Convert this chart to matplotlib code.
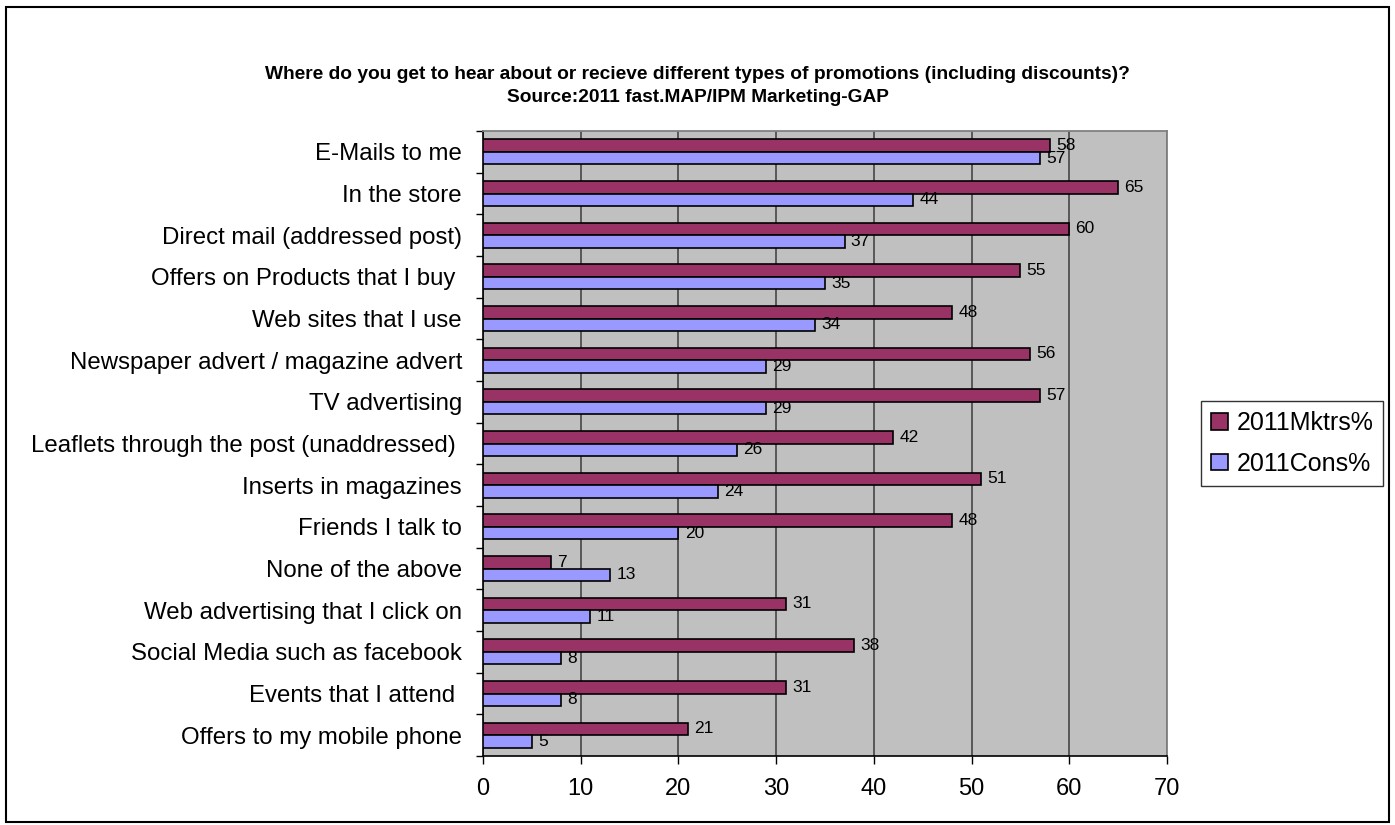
import numpy as np
import matplotlib

matplotlib.use("Agg")
import matplotlib.pyplot as plt
from matplotlib.patches import Rectangle

plt.rcParams["font.family"] = ["Liberation Sans", "DejaVu Sans"]

categories = [
    "E-Mails to me",
    "In the store",
    "Direct mail (addressed post)",
    "Offers on Products that I buy ",
    "Web sites that I use",
    "Newspaper advert / magazine advert",
    "TV advertising",
    "Leaflets through the post (unaddressed) ",
    "Inserts in magazines",
    "Friends I talk to",
    "None of the above",
    "Web advertising that I click on",
    "Social Media such as facebook",
    "Events that I attend ",
    "Offers to my mobile phone",
]
mktrs = [58, 65, 60, 55, 48, 56, 57, 42, 51, 48, 7, 31, 38, 31, 21]
cons = [57, 44, 37, 35, 34, 29, 29, 26, 24, 20, 13, 11, 8, 8, 5]
series_names = ["2011Mktrs%", "2011Cons%"]
x_ticks = [0, 10, 20, 30, 40, 50, 60, 70]

title = ("Where do you get to hear about or recieve different types of "
         "promotions (including discounts)?\nSource:2011 fast.MAP/IPM Marketing-GAP")

fig = plt.figure(figsize=(13.95, 8.25), dpi=100)
fig.patch.set_facecolor("white")
ax = fig.add_axes([0.3462, 0.0836, 0.4904, 0.7576])
ax.set_facecolor("#C0C0C0")

y = np.arange(len(categories))
h = 0.3
b1 = ax.barh(y - h / 2, mktrs, height=h, color="#993366", edgecolor="black",
             linewidth=1.2, label=series_names[0], zorder=3)
b2 = ax.barh(y + h / 2, cons, height=h, color="#9999FF", edgecolor="black",
             linewidth=1.2, label=series_names[1], zorder=3)
for bars, vals in ((b1, mktrs), (b2, cons)):
    for bar, v in zip(bars, vals):
        ax.annotate(str(v), (v, bar.get_y() + bar.get_height() / 2),
                    xytext=(4.5, 0), textcoords="offset points",
                    ha="left", va="center", fontsize=12.5, zorder=4)

ax.set_xlim(0, 70)
ax.set_ylim(len(categories) - 0.5, -0.5)
ax.set_xticks(x_ticks)
ax.tick_params(axis="x", direction="out", length=6, width=1, pad=10,
               labelsize=17)
ax.set_yticks(y)
ax.set_yticklabels(categories)
ax.set_yticks(np.arange(len(categories) + 1) - 0.5, minor=True)
ax.tick_params(axis="y", which="major", length=0, pad=15, labelsize=17.3)
ax.tick_params(axis="y", which="minor", direction="out", length=5, width=1)

ax.grid(axis="x", color="#505050", linewidth=1.3, zorder=1)
ax.set_axisbelow(True)
for side in ("top", "right"):
    ax.spines[side].set_color("#808080")
    ax.spines[side].set_linewidth(1.3)
for side in ("left", "bottom"):
    ax.spines[side].set_color("black")
    ax.spines[side].set_linewidth(1.2)

leg = ax.legend(loc="center left", bbox_to_anchor=(1.05, 0.5), fontsize=18,
                frameon=True, fancybox=False, edgecolor="black",
                handlelength=0.65, handleheight=0.65, handletextpad=0.35,
                borderpad=0.4, labelspacing=0.65, borderaxespad=0)
leg.get_frame().set_linewidth(1.0)

fig.suptitle(title, x=0.5, y=0.92, fontsize=13.8, fontweight="bold",
             linespacing=1.5, va="top")

fig.patches.append(Rectangle((0.004, 0.004), 0.992, 0.988,
                             transform=fig.transFigure, fill=False,
                             edgecolor="black", linewidth=1.5))

fig.savefig("out.png", dpi=100)
